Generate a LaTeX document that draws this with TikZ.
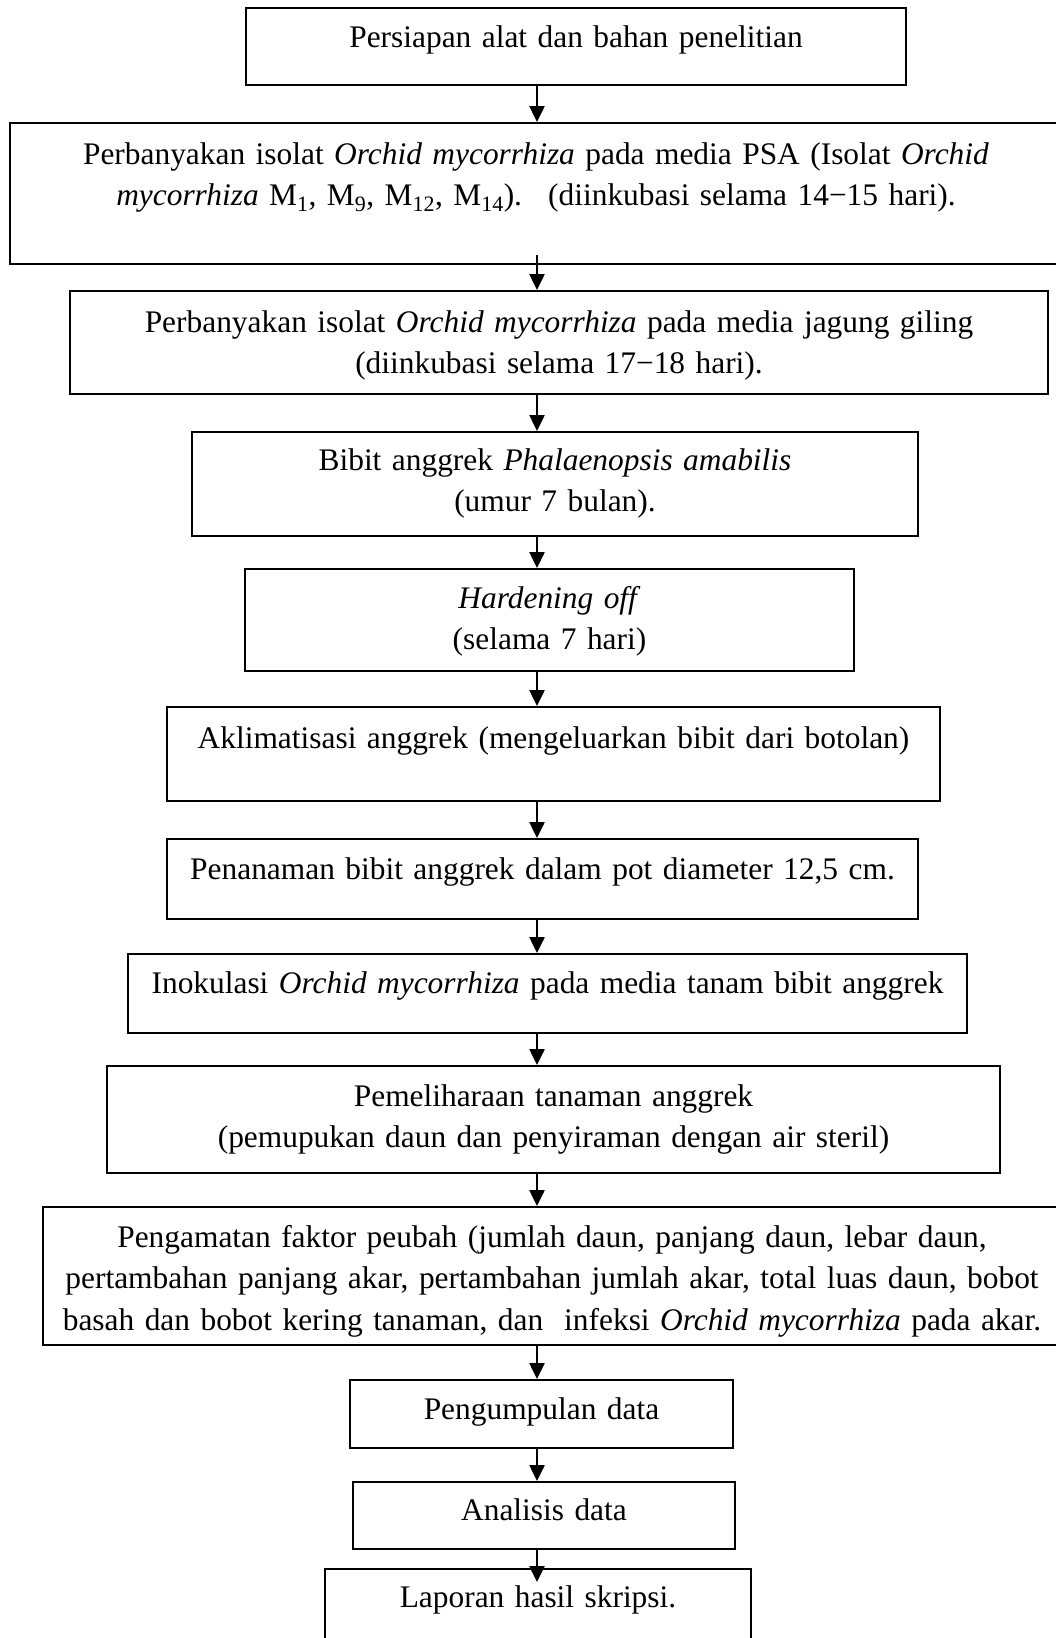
\documentclass[tikz,border=0pt]{standalone}
\usepackage{fontspec}
\setmainfont{Liberation Serif}
\usetikzlibrary{calc, arrows.meta}
\tikzset{
  >={Triangle[length=16pt, width=15pt]},
  fc box/.style={draw=black, fill=white, line width=2pt, inner sep=0pt,
    align=center, anchor=north west, font=\fontsize{31.4}{41.5}\selectfont},
  fc flow/.style={draw=black, ->, line width=2.5pt},
}
\newcommand{\om}{\textit{Orchid mycorrhiza}}

\begin{document}
\begin{tikzpicture}[x=1pt, y=-1pt]
 \path[use as bounding box, fill=white] (0,0) rectangle (1056,1638);
 \coordinate (axis) at (537,0);
 \node[fc box, text width=660pt, text height=39pt, text depth=38pt] (b1) at (245,7)
   {Persiapan alat dan bahan penelitian};
 \node[fc box, text width=1052pt, text height=41pt, text depth=100pt] (b2) at (9,122)
   {Perbanyakan isolat \om{} pada media PSA (Isolat \textit{Orchid}\\
    \textit{mycorrhiza} M\textsubscript{1}, M\textsubscript{9}, M\textsubscript{12}, M\textsubscript{14}).~ (diinkubasi selama 14−15 hari).};
 \node[fc box, text width=978pt, text height=41pt, text depth=62pt] (b3) at (69,290)
   {Perbanyakan isolat \om{} pada media jagung giling\\(diinkubasi selama 17−18 hari).};
 \node[fc box, text width=726pt, text height=38pt, text depth=66pt] (b4) at (191,431)
   {Bibit anggrek \textit{Phalaenopsis amabilis}\\(umur 7 bulan).};
 \node[fc box, text width=609pt, text height=39pt, text depth=63pt] (b5) at (244,568)
   {\textit{Hardening off}\\(selama 7 hari)};
 \node[fc box, text width=773pt, text height=41pt, text depth=53pt] (b6) at (166,706)
   {Aklimatisasi anggrek (mengeluarkan bibit dari botolan)};
 \node[fc box, text width=751pt, text height=40pt, text depth=40pt] (b7) at (166,838)
   {Penanaman bibit anggrek dalam pot diameter 12,5 cm.};
 \node[fc box, text width=839pt, text height=39pt, text depth=40pt] (b8) at (127,953)
   {Inokulasi \om{} pada media tanam bibit anggrek};
 \node[fc box, text width=893pt, text height=40pt, text depth=67pt] (b9) at (106,1065)
   {Pemeliharaan tanaman anggrek\\(pemupukan daun dan penyiraman dengan air steril)};
 \node[fc box, text width=1018pt, text height=40pt, text depth=98pt] (b10) at (42,1206)
   {Pengamatan faktor peubah (jumlah daun, panjang daun, lebar daun,\\
    pertambahan panjang akar, pertambahan jumlah akar, total luas daun, bobot\\
    basah dan bobot kering tanaman, dan~ infeksi \om{} pada akar.};
 \node[fc box, text width=383pt, text height=39pt, text depth=29pt] (b11) at (349,1379)
   {Pengumpulan data};
 \node[fc box, text width=382pt, text height=38pt, text depth=29pt] (b12) at (352,1481)
   {Analisis data};
 \node[fc box, text width=426pt, text height=38pt, text depth=54pt] (b13) at (324,1568)
   {Laporan hasil skripsi.};
 % arrows down the middle
 \draw[fc flow] (b1.south -| axis) -- (b2.north -| axis);
 \draw[fc flow] ($(b2.south -| axis)+(0,-10)$) -- (b3.north -| axis);
 \foreach \a/\b in {b3/b4, b4/b5, b5/b6, b6/b7, b7/b8, b8/b9, b9/b10, b10/b11, b11/b12}
   \draw[fc flow] (\a.south -| axis) -- (\b.north -| axis);
 \draw[fc flow] (b12.south -| axis) -- ($(b13.north -| axis)+(0,14)$);
\end{tikzpicture}
\end{document}
